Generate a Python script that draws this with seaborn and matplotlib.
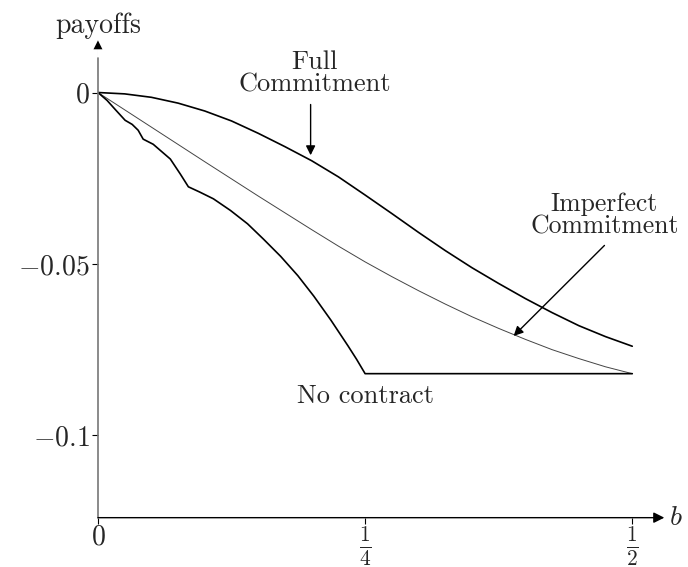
import pandas as pd
import matplotlib.pyplot as plt
import seaborn as sns

# values
full_b = [0, 0.025, 0.05, 0.075, 0.1, 0.125, 0.15, 0.175, 0.2, 0.225, 0.25, 0.275, 0.3,
          0.325, 0.35, 0.375, 0.4, 0.425, 0.45, 0.475, 0.5]
full_pay = [0, -0.0004, -0.0014, -0.0031, -0.0054, -0.0083, -0.0119, -0.0158, -0.0199,
            -0.0246, -0.0299, -0.0353, -0.0408, -0.0461, -0.0511, -0.0557, -0.0601,
            -0.0642, -0.0680, -0.0712, -0.0740]

imperfect_b = [0, 0.05, 0.1, 0.15, 0.2, 0.225, 0.25, 0.275, 0.3, 0.325, 0.35, 0.375, 0.4,
               0.425, 0.45, 0.475, 0.5]
imperfect_pay = [0, -0.0101, -0.0202, -0.0302, -0.0400, -0.0448, -0.0494, -0.0537, -0.0578,
                 -0.0617, -0.0654, -0.0688, -0.0720, -0.0750, -0.0776, -0.0800, -0.0820]

nocontract_b = [0, 0.0085, 0.016, 0.0254, 0.032, 0.0376, 0.0423, 0.0517, 0.0677, 0.0771,
                0.0846, 0.095, 0.108, 0.124, 0.140, 0.155, 0.171, 0.187, 0.202, 0.218,
                0.234, 0.242, 0.25, 0.5]
nocontract_pay = [0, -0.0023, -0.0049, -0.0081, -0.0093, -0.0110, -0.0136, -0.0151, -0.0194,
                  -0.0238, -0.0275, -0.0290, -0.0310, -0.0344, -0.0383, -0.0428, -0.0478,
                  -0.0534, -0.0594, -0.0664, -0.0739, -0.0778, -0.0820, -0.0820]

x_ticks = [0, 0.25, 0.5]
x_ticklabels = [r'$0$', r'$\frac{1}{4}$', r'$\frac{1}{2}$']
y_ticks = [0, -0.05, -0.1]
y_ticklabels = [r'$0$', r'$-0.05$', r'$-0.1$']

sns.set_style('white')
plt.rcParams['font.family'] = ['cmr10', 'DejaVu Sans']
plt.rcParams['mathtext.fontset'] = 'cm'
plt.rcParams['axes.unicode_minus'] = False

fig = plt.figure(figsize=(6.88, 5.67), dpi=100)
ax = fig.add_axes([0.1424, 0.0870, 0.8387, 0.8466])
ybot, ytop, xright = -0.124, 0.016, 0.54
ax.set_xlim(0, xright)
ax.set_ylim(ybot, ytop)

full = pd.DataFrame({'b': full_b, 'pay': full_pay})
imp = pd.DataFrame({'b': imperfect_b, 'pay': imperfect_pay})
noc = pd.DataFrame({'b': nocontract_b, 'pay': nocontract_pay})

sns.lineplot(data=full, x='b', y='pay', ax=ax, color='black', lw=1.2, sort=False, estimator=None)
sns.lineplot(data=imp, x='b', y='pay', ax=ax, color='#444444', lw=0.7, sort=False, estimator=None)
sns.lineplot(data=noc, x='b', y='pay', ax=ax, color='black', lw=1.2, sort=False, estimator=None)

for s in ax.spines.values():
    s.set_visible(False)

# axes with arrow heads
ax.annotate('', xy=(0.53, ybot), xytext=(0, ybot),
            arrowprops=dict(arrowstyle='-|>', color='black', lw=1.0, mutation_scale=16,
                            shrinkA=0, shrinkB=0), annotation_clip=False)
ax.plot([0, 0], [ybot, 0.010], color='#777777', lw=1.2, clip_on=False)
ax.annotate('', xy=(0, 0.0152), xytext=(0, 0.005),
            arrowprops=dict(arrowstyle='-|>', color='black', lw=0.01, mutation_scale=16,
                            shrinkA=0, shrinkB=0), annotation_clip=False)

ax.set_xticks(x_ticks)
ax.set_xticklabels(x_ticklabels)
ax.set_yticks(y_ticks)
ax.set_yticklabels(y_ticklabels)
ax.tick_params(axis='both', direction='out', length=4, width=0.8, color='black', labelsize=20,
               bottom=True, left=True, pad=2)
ax.tick_params(axis='x', pad=1)
for lab in ax.get_xticklabels()[1:]:
    lab.set_fontsize(22)
ax.set_xlabel('')
ax.set_ylabel('')

ax.text(0, 0.0195, 'payoffs', ha='center', va='center', fontsize=20)
ax.text(0.541, ybot, r'$b$', ha='center', va='center', fontsize=20)

ax.text(0.203, 0.0055, 'Full\nCommitment', ha='center', va='center', fontsize=19,
        multialignment='center', linespacing=0.95)
ax.annotate('', xy=(0.199, -0.0183), xytext=(0.199, -0.0035),
            arrowprops=dict(arrowstyle='-|>', color='black', lw=1.0, mutation_scale=14,
                            shrinkA=0, shrinkB=0))

ax.text(0.474, -0.0359, 'Imperfect\nCommitment', ha='center', va='center', fontsize=18.5,
        multialignment='center', linespacing=0.95)
ax.annotate('', xy=(0.389, -0.0710), xytext=(0.474, -0.0446),
            arrowprops=dict(arrowstyle='-|>', color='black', lw=1.0, mutation_scale=14,
                            shrinkA=0, shrinkB=0))

ax.text(0.25, -0.0885, 'No contract', ha='center', va='center', fontsize=19)

fig.savefig('out.png', dpi=100)
